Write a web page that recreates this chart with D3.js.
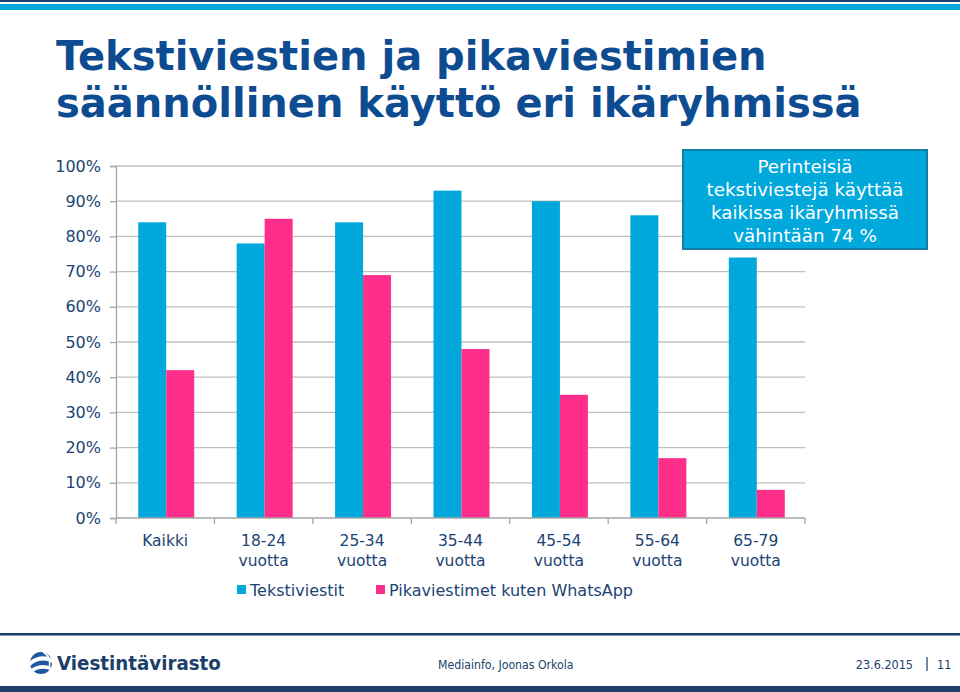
<!DOCTYPE html>
<html><head><meta charset="utf-8">
<script src="https://cdn.jsdelivr.net/npm/d3@7"></script>
<style>html,body{margin:0;padding:0;background:#fff;}svg{display:block;}</style>
</head><body>
<svg id="c" width="960" height="692"></svg>
<script>
const categories = [["Kaikki"],["18-24","vuotta"],["25-34","vuotta"],["35-44","vuotta"],["45-54","vuotta"],["55-64","vuotta"],["65-79","vuotta"]];
const seriesNames = ["Tekstiviestit","Pikaviestimet kuten WhatsApp"];
const tekstiviestit = [84,78,84,93,90,86,74];
const pikaviestimet = [42,85,69,48,35,17,8];
const yTicks = [0,10,20,30,40,50,60,70,80,90,100];
const titleLines = ["Tekstiviestien ja pikaviestimien","säännöllinen käyttö eri ikäryhmissä"];
const calloutLines = ["Perinteisiä","tekstiviestejä käyttää","kaikissa ikäryhmissä","vähintään 74 %"];

(function(){
const colors = ["#00a8dc","#fe2e8a"];
const navy = "#0e4c92";
const labelCol = "#1b4373";
const svg = d3.select("#c");

// top bars
svg.append("rect").attr("x",0).attr("y",0).attr("width",960).attr("height",2).attr("fill","#1b3f6b");
svg.append("rect").attr("x",0).attr("y",4).attr("width",960).attr("height",6).attr("fill","#00a8dc");

// title
svg.append("g").selectAll("text").data(titleLines).join("text")
  .attr("x",56).attr("y",(d,i)=>70+i*47)
  .attr("font-family","DejaVu Sans").attr("font-weight","bold").attr("font-size",40)
  .attr("fill",navy).text(d=>d);

// scales
const pL=116,pR=805,pT=166,pB=518;
const keys = categories.map(c=>c.join(" "));
const x0 = d3.scaleBand().domain(keys).range([pL,pR]).padding(0);
const bw = x0.bandwidth();
const x1 = d3.scaleBand().domain(seriesNames).range([(bw-56)/2+1,(bw+56)/2+1]);
const y = d3.scaleLinear().domain([0,100]).range([pB,pT]);

// gridlines
svg.append("g").selectAll("line").data(yTicks.filter(t=>t>0)).join("line")
  .attr("x1",pL).attr("x2",pR).attr("y1",d=>y(d)).attr("y2",d=>y(d))
  .attr("stroke","#c0c0c0").attr("stroke-width",1.3);

// y axis
const yAxis = svg.append("g").attr("transform",`translate(${pL},0)`)
  .call(d3.axisLeft(y).tickValues(yTicks).tickFormat(d=>d+"%").tickSize(6).tickPadding(9));
yAxis.select(".domain").attr("stroke","#a6a6a6").attr("stroke-width",1.3);
yAxis.selectAll(".tick line").attr("stroke","#a6a6a6").attr("stroke-width",1.3);
yAxis.selectAll("text").attr("font-family","DejaVu Sans").attr("font-size",16).attr("fill",labelCol);

// bars
const data = keys.map((k,i)=>({k, vals:[tekstiviestit[i],pikaviestimet[i]]}));
const groups = svg.append("g").selectAll("g").data(data).join("g")
  .attr("transform",d=>`translate(${x0(d.k)},0)`);
groups.selectAll("rect").data(d=>d.vals.map((v,j)=>({s:seriesNames[j],v,j}))).join("rect")
  .attr("x",d=>x1(d.s)).attr("width",x1.bandwidth())
  .attr("y",d=>y(d.v)).attr("height",d=>y(0)-y(d.v))
  .attr("fill",d=>colors[d.j]);

// x axis
svg.append("line").attr("x1",pL).attr("x2",pR).attr("y1",pB).attr("y2",pB)
  .attr("stroke","#a6a6a6").attr("stroke-width",1.3);
const bounds = keys.map(k=>x0(k)).concat([pR]);
svg.append("g").selectAll("line").data(bounds).join("line")
  .attr("x1",d=>d).attr("x2",d=>d).attr("y1",pB).attr("y2",pB+6)
  .attr("stroke","#a6a6a6").attr("stroke-width",1.3);
const xl = svg.append("g").selectAll("text").data(categories).join("text")
  .attr("x",(d,i)=>x0(keys[i])+bw/2).attr("y",546)
  .attr("text-anchor","middle").attr("font-family","DejaVu Sans").attr("font-size",15.5)
  .attr("fill",labelCol);
xl.selectAll("tspan").data(d=>d).join("tspan")
  .attr("x",function(){return d3.select(this.parentNode).attr("x");})
  .attr("dy",(d,i)=>i===0?0:19.5).text(d=>d);

// legend
const lx=[237,376];
const lg = svg.append("g").selectAll("g").data(seriesNames).join("g")
  .attr("transform",(d,i)=>`translate(${lx[i]},585)`);
lg.append("rect").attr("width",9).attr("height",9).attr("fill",(d,i)=>colors[i]);
lg.append("text").attr("x",13).attr("y",11).attr("font-family","DejaVu Sans").attr("font-size",16)
  .attr("fill",labelCol).text(d=>d);

// callout
svg.append("rect").attr("x",683).attr("y",150).attr("width",244).attr("height",99)
  .attr("fill","#00a8dc").attr("stroke","#137fa8").attr("stroke-width",2);
svg.append("g").selectAll("text").data(calloutLines).join("text")
  .attr("x",805).attr("y",(d,i)=>173+i*23).attr("text-anchor","middle")
  .attr("font-family","DejaVu Sans").attr("font-size",18.3).attr("fill","#fff").text(d=>d);

// footer
svg.append("rect").attr("x",0).attr("y",633).attr("width",960).attr("height",2.5).attr("fill","#1b3f6b");
svg.append("rect").attr("x",0).attr("y",686).attr("width",960).attr("height",6).attr("fill","#1b3f6b");
// logo
const lgG = svg.append("g").attr("transform","translate(41,663)");
lgG.append("circle").attr("r",11).attr("fill","#1b5aa0");
lgG.append("path").attr("d","M-11,-2 C-4,-8 6,-8 11,-4 L11,0 C4,-4 -4,-3 -11,3 Z").attr("fill","#fff");
lgG.append("path").attr("d","M-10,6 C-3,1 5,1 10,4 L9,7 C3,5 -3,5 -8,9 Z").attr("fill","#fff");
lgG.append("path").attr("d","M2,-11 C8,-8 10,-2 8,6").attr("stroke","#fff").attr("stroke-width",1.5).attr("fill","none");
svg.append("text").attr("x",57).attr("y",670).attr("font-family","DejaVu Sans Condensed").attr("font-weight","bold")
  .attr("font-size",20.3).attr("fill","#1b3f6b").text("Viestintävirasto");
svg.append("text").attr("x",438).attr("y",669).attr("font-family","DejaVu Sans Condensed").attr("font-size",12.2)
  .attr("fill","#1b3f6b").text("Mediainfo, Joonas Orkola");
svg.append("text").attr("x",913).attr("y",669).attr("text-anchor","end").attr("font-family","DejaVu Sans Condensed").attr("font-size",12.5)
  .attr("fill","#1b3f6b").text("23.6.2015");
svg.append("line").attr("x1",927).attr("x2",927).attr("y1",657).attr("y2",671).attr("stroke","#1b3f6b").attr("stroke-width",1.2);
svg.append("text").attr("x",937).attr("y",669).attr("font-family","DejaVu Sans Condensed").attr("font-size",12.5)
  .attr("fill","#1b3f6b").text("11");
})();
</script>
</body></html>
